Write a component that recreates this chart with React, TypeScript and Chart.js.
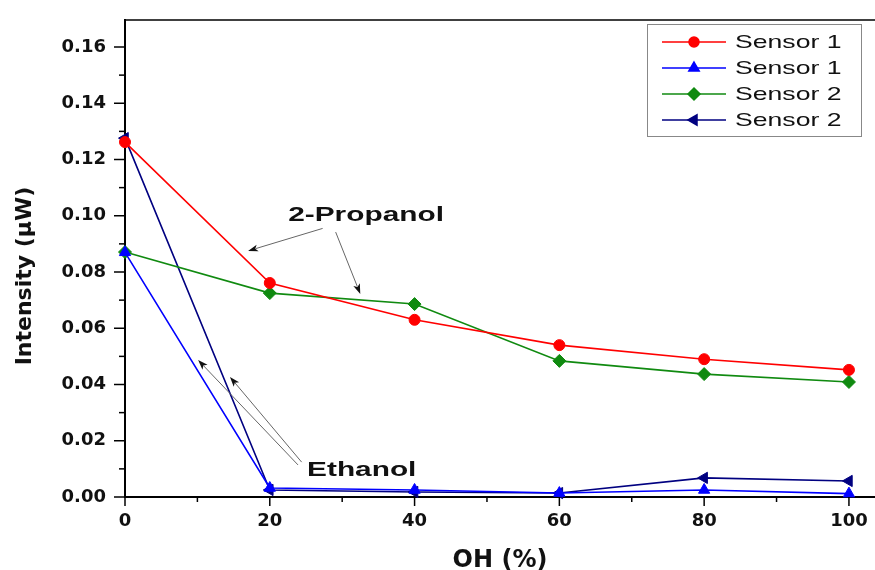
import React, { useEffect, useRef } from "react";
import { Chart, registerables } from "chart.js";
import { drawPoint } from "chart.js/helpers";
Chart.register(...registerables);

const xValues = [0, 20, 40, 60, 80, 100];
const sensor1Propanol = [0.1262, 0.0761, 0.063, 0.054, 0.049, 0.0452];
const sensor1Ethanol = [0.087, 0.0032, 0.0025, 0.0014, 0.0025, 0.0012];
const sensor2Propanol = [0.0871, 0.0725, 0.0686, 0.0484, 0.0437, 0.0409];
const sensor2Ethanol = [0.1276, 0.0025, 0.0018, 0.0014, 0.0068, 0.0057];
const seriesLabels = ["Sensor 1", "Sensor 1", "Sensor 2", "Sensor 2"];
const xAxisTitle = "OH (%)";
const yAxisTitle = "Intensity (\u03bcW)";
const noteLabels = [
  { text: "2-Propanol", x: 33.3, y: 0.1003 },
  { text: "Ethanol", x: 32.7, y: 0.0096 },
];
// arrows: [fromX, fromY, toX, toY] in data units
const noteArrows = [
  [27.3, 0.0955, 17.0, 0.0875],
  [29.1, 0.0942, 32.5, 0.0722],
  [23.9, 0.0114, 10.1, 0.0487],
  [24.4, 0.0124, 14.5, 0.0427],
];

const toPoints = (ys: number[]) => ys.map((y, i) => ({ x: xValues[i], y }));

const decorPlugin = {
  id: "decor",
  afterDraw(chart: any) {
    const ctx = chart.ctx as CanvasRenderingContext2D;
    const xs = chart.scales.x;
    const ys = chart.scales.y;
    const area = chart.chartArea;
    ctx.save();
    // frame top line
    ctx.strokeStyle = "#000";
    ctx.lineWidth = 1.5;
    ctx.beginPath();
    ctx.moveTo(area.left, area.top);
    ctx.lineTo(area.right, area.top);
    ctx.stroke();
    // tick marks
    ctx.lineWidth = 1.5;
    ys.ticks.forEach((t: any) => {
      const major = Math.round(t.value * 100) % 2 === 0;
      const py = ys.getPixelForValue(t.value);
      ctx.beginPath();
      ctx.moveTo(area.left, py);
      ctx.lineTo(area.left - (major ? 11 : 6), py);
      ctx.stroke();
    });
    xs.ticks.forEach((t: any) => {
      const major = Math.round(t.value) % 20 === 0;
      const px = xs.getPixelForValue(t.value);
      ctx.beginPath();
      ctx.moveTo(px, area.bottom);
      ctx.lineTo(px, area.bottom + (major ? 9 : 5));
      ctx.stroke();
    });
    // y title
    ctx.fillStyle = "#111";
    ctx.font = "bold 22px 'DejaVu Sans'";
    ctx.textAlign = "center";
    ctx.textBaseline = "middle";
    ctx.save();
    ctx.translate(25, 276);
    ctx.rotate(-Math.PI / 2);
    ctx.fillText(yAxisTitle, 0, 0);
    ctx.restore();

    // annotation arrows
    noteArrows.forEach(([fx, fy, tx, ty]) => {
      const x1 = xs.getPixelForValue(fx);
      const y1 = ys.getPixelForValue(fy);
      const x2 = xs.getPixelForValue(tx);
      const y2 = ys.getPixelForValue(ty);
      const ang = Math.atan2(y2 - y1, x2 - x1);
      const hl = 10;
      const hw = 3.5;
      ctx.strokeStyle = "#666";
      ctx.lineWidth = 1;
      ctx.beginPath();
      ctx.moveTo(x1, y1);
      ctx.lineTo(x2 - Math.cos(ang) * hl * 0.8, y2 - Math.sin(ang) * hl * 0.8);
      ctx.stroke();
      ctx.fillStyle = "#111";
      ctx.beginPath();
      ctx.moveTo(x2, y2);
      ctx.lineTo(
        x2 - Math.cos(ang) * hl - Math.sin(ang) * hw,
        y2 - Math.sin(ang) * hl + Math.cos(ang) * hw
      );
      ctx.lineTo(x2 - Math.cos(ang) * hl * 0.75, y2 - Math.sin(ang) * hl * 0.75);
      ctx.lineTo(
        x2 - Math.cos(ang) * hl + Math.sin(ang) * hw,
        y2 - Math.sin(ang) * hl - Math.cos(ang) * hw
      );
      ctx.closePath();
      ctx.fill();
    });
    // annotation labels
    ctx.fillStyle = "#111";
    ctx.font = "bold 21px 'Liberation Sans', Arial";
    ctx.textAlign = "center";
    ctx.textBaseline = "middle";
    noteLabels.forEach((n) => {
      ctx.save();
      ctx.translate(xs.getPixelForValue(n.x), ys.getPixelForValue(n.y));
      ctx.scale(1.42, 1);
      ctx.fillText(n.text, 0, 0);
      ctx.restore();
    });

    // legend
    const boxR = area.right - 14;
    const boxL = boxR - 214;
    const boxT = area.top + 4;
    const boxH = 112;
    ctx.fillStyle = "#fff";
    ctx.fillRect(boxL, boxT, 214, boxH);
    ctx.strokeStyle = "#888";
    ctx.lineWidth = 1;
    ctx.strokeRect(boxL + 0.5, boxT + 0.5, 214, boxH);
    chart.data.datasets.forEach((ds: any, i: number) => {
      const ry = boxT + 18 + i * 26;
      ctx.strokeStyle = ds.borderColor;
      ctx.lineWidth = 1.5;
      ctx.beginPath();
      ctx.moveTo(boxL + 15, ry);
      ctx.lineTo(boxL + 79, ry);
      ctx.stroke();
      ctx.fillStyle = ds.backgroundColor;
      drawPoint(
        ctx,
        {
          pointStyle: ds.pointStyle,
          rotation: ds.pointRotation || 0,
          radius: ds.pointRadius - 0.5,
          borderWidth: 1,
        } as any,
        boxL + 47,
        ry
      );
      ctx.fillStyle = "#111";
      ctx.font = "19px 'Liberation Sans', Arial";
      ctx.textAlign = "left";
      ctx.textBaseline = "middle";
      ctx.save();
      ctx.translate(boxL + 88, ry + 1);
      ctx.scale(1.4, 1);
      ctx.fillText(ds.label, 0, 0);
      ctx.restore();
    });
    ctx.restore();
  },
};

export default function App() {
  const ref = useRef<HTMLCanvasElement | null>(null);
  useEffect(() => {
    document.body.style.margin = "0";
    if (!ref.current) return;
    const mk = (
      label: string,
      data: number[],
      color: string,
      style: string,
      radius: number,
      rotation = 0
    ) => ({
      label,
      data: toPoints(data),
      borderColor: color,
      backgroundColor: color,
      pointBackgroundColor: color,
      pointBorderColor: color,
      pointStyle: style,
      pointRotation: rotation,
      pointRadius: radius,
      pointBorderWidth: 1,
      borderWidth: 1.6,
      tension: 0,
      clip: false as any,
    });
    const chart = new Chart(ref.current, {
      type: "line",
      data: {
        datasets: [
          mk(seriesLabels[0], sensor1Propanol, "#ff0000", "circle", 5.5),
          mk(seriesLabels[1], sensor1Ethanol, "#0000ff", "triangle", 6.5),
          mk(seriesLabels[2], sensor2Propanol, "#108a10", "rectRot", 6.5),
          mk(seriesLabels[3], sensor2Ethanol, "#000080", "triangle", 6.5, -90),
        ],
      },
      options: {
        animation: false,
        responsive: false,
        events: [],
        layout: { autoPadding: false, padding: { top: 20, right: 0, bottom: 0, left: 0 } },
        plugins: { legend: { display: false }, tooltip: { enabled: false } },
        scales: {
          x: {
            type: "linear",
            min: 0,
            max: 103.6,
            grid: { display: false, drawTicks: false },
            border: { display: true, color: "#000", width: 2 },
            ticks: {
              stepSize: 10,
              includeBounds: false,
              autoSkip: false,
              maxRotation: 0,
              padding: 14,
              color: "#111",
              font: { family: "'DejaVu Sans'", size: 18, weight: "bold" },
              callback: (v: any) => (Math.round(v) % 20 === 0 ? String(Math.round(v)) : ""),
            },
            title: {
              display: true,
              text: xAxisTitle,
              color: "#111",
              font: { family: "'DejaVu Sans'", size: 24, weight: "bold", lineHeight: 0.8 },
              padding: { top: 0, bottom: 0 },
            },
            afterFit: (s: any) => {
              s.height = 73;
              s.paddingLeft = 0;
              s.paddingRight = 0;
            },
          },
          y: {
            type: "linear",
            min: 0,
            max: 0.1696,
            grid: { display: false, drawTicks: false },
            border: { display: true, color: "#000", width: 2 },
            ticks: {
              stepSize: 0.01,
              includeBounds: false,
              autoSkip: false,
              padding: 19,
              color: "#111",
              font: { family: "'DejaVu Sans'", size: 18, weight: "bold" },
              callback: (v: any) =>
                Math.round(v * 100) % 2 === 0 ? Number(v).toFixed(2) : "",
            },
            afterFit: (s: any) => {
              s.width = 125;
              s.paddingTop = 0;
              s.paddingBottom = 0;
            },
          },
        },
      },
      plugins: [decorPlugin],
    } as any);
    return () => chart.destroy();
  }, []);
  return (
    <div style={{ position: "absolute", left: 0, top: 0, width: 875, height: 570, background: "#fff" }}>
      <canvas ref={ref} width={875} height={570} />
    </div>
  );
}
